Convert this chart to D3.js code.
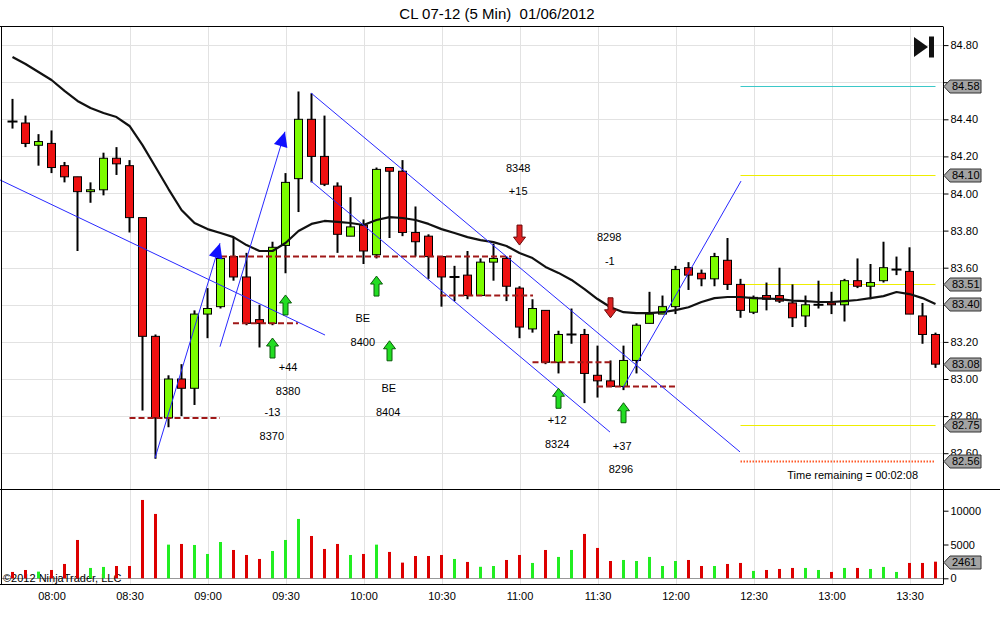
<!DOCTYPE html>
<html>
<head>
<meta charset="utf-8">
<script src="https://cdn.jsdelivr.net/npm/d3@7"></script>
<style>
  body { margin: 0; background: #fff; }
  svg { display: block; font-family: Arial, "Liberation Sans", sans-serif; }
</style>
</head>
<body>
<svg id="chart" width="1000" height="630"></svg>
<script>
const title = "CL 07-12 (5 Min)  01/06/2012";
const firstBar = "2012-01-06T07:45:00";

const opens = [84.39,84.38,84.26,84.27,84.15,84.09,84.01,84.02,84.19,84.15,
  83.87,83.23,82.79,83.00,82.95,83.35,83.39,83.66,83.55,83.32,
  83.30,83.72,84.08,84.40,84.20,84.04,83.77,83.83,83.67,84.14,
  84.12,83.79,83.77,83.66,83.55,83.56,83.45,83.63,83.65,83.49,
  83.27,83.37,83.09,83.24,83.24,83.02,82.99,82.96,83.10,83.30,
  83.35,83.39,83.60,83.57,83.54,83.64,83.51,83.36,83.45,83.45,
  83.41,83.34,83.40,83.41,83.40,83.53,83.50,83.53,83.59,83.58,
  83.34,83.24];
const highs = [84.51,84.42,84.32,84.34,84.17,84.09,84.06,84.22,84.25,84.18,
  83.87,83.24,83.02,83.08,83.37,83.49,83.66,83.76,83.68,83.40,
  83.74,84.11,84.55,84.54,84.42,84.06,83.98,83.86,84.14,84.14,
  84.18,83.93,83.78,83.66,83.61,83.69,83.65,83.73,83.66,83.50,
  83.43,83.37,83.26,83.38,83.27,83.18,83.10,83.18,83.30,83.47,
  83.45,83.61,83.63,83.59,83.68,83.76,83.54,83.45,83.52,83.60,
  83.51,83.45,83.53,83.47,83.54,83.65,83.62,83.74,83.66,83.71,
  83.41,83.25];
const lows = [84.35,84.25,84.15,84.11,84.06,83.69,83.95,83.99,84.10,83.79,
  82.83,82.57,82.74,82.80,82.86,83.22,83.38,83.53,83.29,83.17,
  83.29,83.57,83.90,84.06,84.04,83.68,83.77,83.62,83.65,83.76,
  83.77,83.66,83.54,83.39,83.42,83.43,83.45,83.53,83.42,83.22,
  83.25,83.08,83.03,83.19,82.87,82.90,82.96,82.94,83.03,83.30,
  83.35,83.35,83.48,83.50,83.50,83.48,83.33,83.35,83.37,83.41,
  83.28,83.28,83.38,83.35,83.31,83.49,83.43,83.52,83.56,83.35,
  83.19,83.06];
const closes = [84.388,84.27,84.28,84.14,84.09,84.01,84.02,84.19,84.16,83.87,
  83.23,82.79,83.00,82.95,83.35,83.38,83.65,83.55,83.30,83.30,
  83.71,84.06,84.40,84.20,84.05,83.78,83.82,83.69,84.13,84.12,
  83.79,83.74,83.66,83.55,83.55,83.45,83.63,83.65,83.50,83.28,
  83.38,83.09,83.24,83.24,83.03,82.99,82.96,83.10,83.29,83.35,
  83.39,83.59,83.56,83.54,83.66,83.51,83.37,83.44,83.43,83.42,
  83.33,83.40,83.40,83.40,83.53,83.50,83.52,83.60,83.59,83.35,
  83.24,83.08];
const volumes = [940,1230,990,1230,2120,5670,1530,1680,1820,1820,
  11590,9520,4980,5080,4930,3600,5370,4190,3450,2860,
  4040,5670,8780,6260,4340,5080,3450,3600,4980,3900,
  2320,3300,3300,3450,2860,2420,1700,1820,2710,3450,
  2270,4190,3160,4190,6560,4490,2560,2710,2560,3160,
  1820,2560,2710,1820,1820,2120,2270,1090,1230,1380,
  1530,1530,1230,940,1530,1530,1380,1680,940,2270,
  2270,2461];
const sma = [84.736,84.698,84.655,84.612,84.553,84.499,84.461,84.434,84.412,84.364,
  84.261,84.143,84.024,83.911,83.841,83.808,83.787,83.765,83.722,83.690,
  83.690,83.733,83.798,83.836,83.852,83.847,83.841,83.830,83.857,83.873,
  83.868,83.857,83.836,83.808,83.787,83.765,83.749,83.738,83.717,83.679,
  83.652,83.604,83.572,83.534,83.485,83.431,83.387,83.360,83.355,83.355,
  83.360,83.371,83.387,83.415,83.436,83.442,83.442,83.436,83.434,83.431,
  83.423,83.420,83.415,83.415,83.420,83.426,83.436,83.447,83.469,83.458,
  83.436,83.404];

// drawn objects, positions given as bar index + price
const trendLines = [
  { i1: -0.96, p1: 84.073, i2: 24.04, p2: 83.237, arrow: false },
  { i1: 10.96, p1: 82.573, i2: 15.96, p2: 83.732, arrow: true },
  { i1: 15.96, p1: 83.174, i2: 20.96, p2: 84.333, arrow: true },
  { i1: 22.96, p1: 84.542, i2: 55.96, p2: 82.607, arrow: false },
  { i1: 22.96, p1: 84.067, i2: 45.96, p2: 82.714, arrow: false },
  { i1: 46.96, p1: 82.953, i2: 56.04, p2: 84.067, arrow: false }
];
const stopLines = [
  { from: 9.0, to: 15.96, price: 82.79 },
  { from: 16.04, to: 38.4, price: 83.66 },
  { from: 16.96, to: 21.96, price: 83.30 },
  { from: 32.9, to: 40.04, price: 83.45 },
  { from: 40.0, to: 46.04, price: 83.09 },
  { from: 44.96, to: 50.96, price: 82.96 }
];
const buyArrows = [
  { i: 20, price: 83.221 }, { i: 21, price: 83.453 }, { i: 28, price: 83.555 },
  { i: 29, price: 83.206 }, { i: 42, price: 82.950 }, { i: 47, price: 82.872 }
];
const sellArrows = [
  { i: 39, price: 83.722 }, { i: 46, price: 83.330 }
];
const tradeNotes = [
  { i: 21.2, price: 83.066, text: "+44" }, { i: 21.2, price: 82.935, text: "8380" },
  { i: 20.0, price: 82.820, text: "-13" }, { i: 19.95, price: 82.693, text: "8370" },
  { i: 26.95, price: 83.327, text: "BE" }, { i: 26.95, price: 83.198, text: "8400" },
  { i: 28.95, price: 82.953, text: "BE" }, { i: 28.9, price: 82.820, text: "8404" },
  { i: 38.9, price: 84.136, text: "8348" }, { i: 38.9, price: 84.010, text: "+15" },
  { i: 45.9, price: 83.764, text: "8298" }, { i: 45.95, price: 83.636, text: "-1" },
  { i: 41.9, price: 82.779, text: "+12" }, { i: 41.9, price: 82.650, text: "8324" },
  { i: 46.9, price: 82.640, text: "+37" }, { i: 46.8, price: 82.515, text: "8296" }
];
const levels = [
  { price: 84.58, kind: "target" },
  { price: 84.10, kind: "pivot" },
  { price: 83.51, kind: "pivot" },
  { price: 82.75, kind: "pivot" },
  { price: 82.56, kind: "low" }
];
const levelFrom = 56, levelTo = 71;
const priceTicks = [82.60, 82.80, 83.00, 83.20, 83.40, 83.60, 83.80, 84.00, 84.20, 84.40, 84.60, 84.80];
const volumeTicks = [0, 5000, 10000];
const timeRemaining = "Time remaining = 00:02:08";
const copyright = "\u00a92012 NinjaTrader, LLC";

const levelStyle = {
  target: { color: "#3cc8c8", dash: null, width: 1 },
  pivot: { color: "#eeee00", dash: null, width: 1.2 },
  low: { color: "#ff5a28", dash: "1.5,1.5", width: 2 }
};
const upColor = "#7cfc00", downColor = "#ee1111";
const volUp = "#22ee22", volDown = "#dd0000";

const svg = d3.select("#chart");
const W = 1000, axisX = 943;
const priceTop = 27, sepY = 489.5, volBottom = 584;

const t0 = new Date(firstBar);
const barTime = i => new Date(t0.getTime() + i * 5 * 60000);
const times = opens.map((d, i) => barTime(i));

const x = d3.scaleTime()
  .domain([times[0], times[times.length - 1]])
  .range([12.5, 935.5]);
const xi = i => x(barTime(i));

const y = d3.scaleLinear().domain([82.60, 84.80]).range([453.2, 45.1]);
const yV = d3.scaleLinear().domain([0, 10000]).range([578.3, 510.7]);

svg.append("rect").attr("width", W).attr("height", 630).attr("fill", "#fff");

// title
svg.append("text")
  .attr("x", 497).attr("y", 19)
  .attr("text-anchor", "middle")
  .attr("font-size", 15)
  .style("white-space", "pre")
  .text(title);

// grid
const grid = svg.append("g").attr("stroke", "#e2e2e2").attr("stroke-width", 1);
const timeTicks = x.ticks(d3.timeMinute.every(30));
grid.selectAll("line.v").data(timeTicks).join("line")
  .attr("x1", d => Math.round(x(d)) + 0.5).attr("x2", d => Math.round(x(d)) + 0.5)
  .attr("y1", priceTop).attr("y2", volBottom);
grid.selectAll("line.h").data(priceTicks).join("line")
  .attr("x1", 1).attr("x2", axisX)
  .attr("y1", d => Math.round(y(d)) + 0.5).attr("y2", d => Math.round(y(d)) + 0.5);

// volume zero line
svg.append("line")
  .attr("x1", 1).attr("x2", axisX)
  .attr("y1", Math.round(yV(0)) + 0.5).attr("y2", Math.round(yV(0)) + 0.5)
  .attr("stroke", "#999");

// copyright
svg.append("text")
  .attr("x", 3).attr("y", 582)
  .attr("font-size", 11)
  .text(copyright);

// volume bars
svg.append("g").selectAll("rect").data(volumes).join("rect")
  .attr("x", (d, i) => xi(i) - 1.5)
  .attr("width", 3)
  .attr("y", d => yV(d))
  .attr("height", d => yV(0) - yV(d))
  .attr("fill", (d, i) => closes[i] >= opens[i] ? volUp : volDown);

// level lines on the right
levels.forEach(l => {
  const st = levelStyle[l.kind];
  svg.append("line")
    .attr("x1", xi(levelFrom)).attr("x2", xi(levelTo))
    .attr("y1", Math.round(y(l.price)) + 0.5).attr("y2", Math.round(y(l.price)) + 0.5)
    .attr("stroke", st.color)
    .attr("stroke-width", st.width)
    .attr("stroke-dasharray", st.dash);
});

// candles
const candles = svg.append("g");
opens.forEach((o, i) => {
  const c = closes[i], cx = xi(i);
  candles.append("line")
    .attr("x1", cx).attr("x2", cx)
    .attr("y1", y(highs[i])).attr("y2", y(lows[i]))
    .attr("stroke", "#000").attr("stroke-width", 2);
  if (Math.abs(o - c) < 0.005) {
    candles.append("line")
      .attr("x1", cx - 5).attr("x2", cx + 5)
      .attr("y1", y(c)).attr("y2", y(c))
      .attr("stroke", "#000").attr("stroke-width", 2);
  } else {
    candles.append("rect")
      .attr("x", cx - 4).attr("width", 8)
      .attr("y", y(Math.max(o, c)))
      .attr("height", Math.abs(y(o) - y(c)))
      .attr("fill", c > o ? upColor : downColor)
      .attr("stroke", "#000").attr("stroke-width", 1);
  }
});

// moving average
svg.append("path")
  .datum(sma)
  .attr("d", d3.line().x((d, i) => xi(i)).y(d => y(d)))
  .attr("fill", "none")
  .attr("stroke", "#111")
  .attr("stroke-width", 2.2)
  .attr("stroke-linejoin", "round");

// stop lines
svg.append("g").selectAll("line").data(stopLines).join("line")
  .attr("x1", d => xi(d.from)).attr("x2", d => xi(d.to))
  .attr("y1", d => y(d.price)).attr("y2", d => y(d.price))
  .attr("stroke", "#a01818")
  .attr("stroke-width", 2)
  .attr("stroke-dasharray", "6,3");

// trend lines
const tl = svg.append("g");
trendLines.forEach(d => {
  const ax = xi(d.i1), ay = y(d.p1), bx = xi(d.i2), by = y(d.p2);
  tl.append("line")
    .attr("x1", ax).attr("y1", ay).attr("x2", bx).attr("y2", by)
    .attr("stroke", "#2828ff").attr("stroke-width", 1);
  if (d.arrow) {
    const ang = Math.atan2(by - ay, bx - ax) * 180 / Math.PI;
    tl.append("path")
      .attr("d", "M0,0 L-15,-7 L-15,7 Z")
      .attr("transform", `translate(${bx},${by}) rotate(${ang})`)
      .attr("fill", "#1010ff");
  }
});

// entry / exit arrows
const upArrow = "M0,0 L6,8 L2.5,8 L2.5,20 L-2.5,20 L-2.5,8 L-6,8 Z";
svg.append("g").selectAll("path").data(buyArrows).join("path")
  .attr("d", upArrow)
  .attr("transform", d => `translate(${xi(d.i)},${y(d.price)})`)
  .attr("fill", "#22dd22").attr("stroke", "#0a5a0a").attr("stroke-width", 1);
svg.append("g").selectAll("path").data(sellArrows).join("path")
  .attr("d", upArrow)
  .attr("transform", d => `translate(${xi(d.i)},${y(d.price)}) scale(1,-1)`)
  .attr("fill", "#dd2222").attr("stroke", "#6a0a0a").attr("stroke-width", 1);

// trade notes
svg.append("g").selectAll("text").data(tradeNotes).join("text")
  .attr("x", d => xi(d.i)).attr("y", d => y(d.price))
  .attr("dy", "0.35em")
  .attr("text-anchor", "middle")
  .attr("font-size", 11)
  .text(d => d.text);

svg.append("text")
  .attr("x", 918).attr("y", 479)
  .attr("text-anchor", "end")
  .attr("font-size", 11)
  .text(timeRemaining);

// play-to-end icon
svg.append("path").attr("d", "M914,37 L928,47 L914,57 Z").attr("fill", "#111");
svg.append("rect").attr("x", 929).attr("y", 36.5).attr("width", 5).attr("height", 21).attr("fill", "#111");

// frame
const frame = svg.append("g").attr("stroke", "#000").attr("stroke-width", 1);
frame.append("line").attr("x1", 0).attr("x2", axisX).attr("y1", priceTop - 0.5).attr("y2", priceTop - 0.5);
frame.append("line").attr("x1", 0).attr("x2", W).attr("y1", sepY).attr("y2", sepY);
frame.append("line").attr("x1", 0).attr("x2", axisX).attr("y1", volBottom + 0.5).attr("y2", volBottom + 0.5);
frame.append("line").attr("x1", 1.5).attr("x2", 1.5).attr("y1", priceTop - 0.5).attr("y2", volBottom + 0.5);
frame.append("line").attr("x1", axisX + 0.5).attr("x2", axisX + 0.5).attr("y1", priceTop - 0.5).attr("y2", volBottom + 0.5);

// axes
function styleAxis(g) {
  g.select(".domain").remove();
  g.selectAll("text").attr("font-size", 11).attr("fill", "#000").attr("font-family", "Arial, 'Liberation Sans', sans-serif");
  g.selectAll("line").attr("stroke", "#000");
}

// value tags on the axis (drawn over the tick labels they cover)
const tagged = levels.map(l => l.price)
  .concat([sma[sma.length - 1], closes[closes.length - 1]]);

const priceAxis = svg.append("g")
  .attr("transform", `translate(${axisX + 0.5},0)`)
  .call(d3.axisRight(y).tickValues(priceTicks).tickFormat(d3.format(".2f")).tickSize(5).tickPadding(2))
  .call(styleAxis);
// a label that sits right under a tag is not shown, as in the platform
priceAxis.selectAll(".tick text")
  .filter(d => tagged.some(p => Math.abs(y(p) - y(d)) < 6))
  .remove();

svg.append("g")
  .attr("transform", `translate(${axisX + 0.5},0)`)
  .call(d3.axisRight(yV).tickValues(volumeTicks).tickFormat(d3.format("d")).tickSize(5).tickPadding(2))
  .call(styleAxis);
svg.append("g")
  .attr("transform", `translate(0,${volBottom})`)
  .call(d3.axisBottom(x).ticks(d3.timeMinute.every(30)).tickFormat(d3.timeFormat("%H:%M")).tickSize(0).tickPadding(8))
  .call(styleAxis);

function tag(py, label) {
  const g = svg.append("g").attr("transform", `translate(${axisX + 1},${Math.round(py) + 0.5})`);
  g.append("path")
    .attr("d", "M0,0 L6,-6.5 L37,-6.5 L37,6.5 L6,6.5 Z")
    .attr("fill", "#a4a4a4").attr("stroke", "#333").attr("stroke-width", 1);
  g.append("text")
    .attr("x", 8).attr("dy", "0.36em")
    .attr("font-size", 11)
    .text(label);
}
tagged.forEach(p => tag(y(p), p.toFixed(2)));
tag(yV(volumes[volumes.length - 1]), String(volumes[volumes.length - 1]));
</script>
</body>
</html>
